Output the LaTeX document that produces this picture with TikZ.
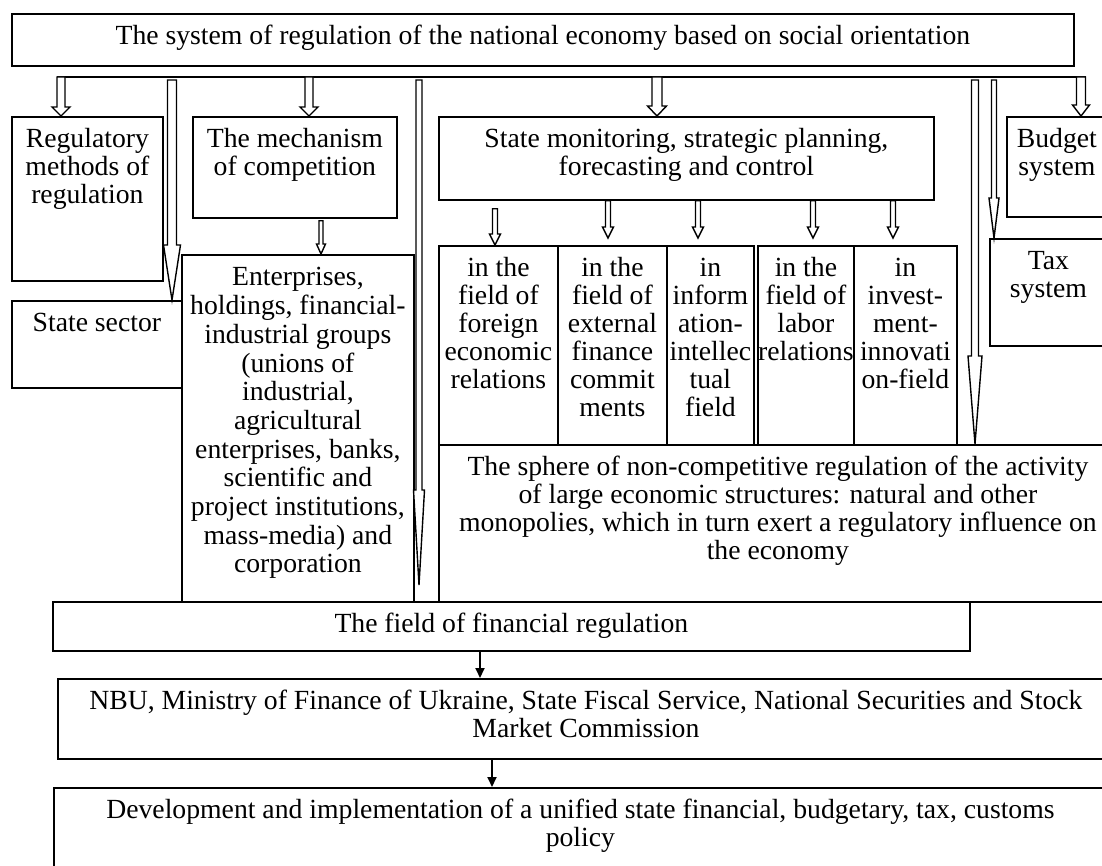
\documentclass[tikz,border=0pt]{standalone}
\usepackage{fontspec}
\setmainfont{Liberation Serif}
\usetikzlibrary{calc,arrows.meta}
\tikzstyle{box} = [draw, rectangle, line width=0.9pt, inner sep=0pt, anchor=north west]
\tikzstyle{blockarrow} = [draw, fill=white, line width=0.7pt]
\tikzstyle{link} = [draw, line width=0.9pt, -{Triangle[length=5pt,width=4.5pt]}]
\newcommand{\boxtext}[3]{\parbox[t][#2][t]{#1}{\centering\rule{0pt}{15.5pt}#3}}
\newcommand{\hollowarrow}[5]{%
  \path[blockarrow] ($(#1)+(-#3,0)$) -- ($(#2)+(-#3,-#5)$) -- ($(#2)+(-#4,-#5)$) -- (#2)
    -- ($(#2)+(#4,-#5)$) -- ($(#2)+(#3,-#5)$) -- ($(#1)+(#3,0)$) -- cycle;}
\begin{document}
\begin{tikzpicture}[x=0.5pt, y=-0.5pt, font=\fontsize{13.85}{14}\selectfont]
    \useasboundingbox (0,0) rectangle (1102,866);
    \clip (0,0) rectangle (1102,866);

    % The top box and the bar under it
    \node[box] (sys) at (11,13) {\boxtext{531pt}{26pt}{The system of regulation of the national economy based on social orientation}};
    \coordinate (barL) at (57,77);
    \coordinate (barR) at (1085.5,77);
    \draw[line width=0.9pt] (barL) -- (barR);

    % Boxes under the bar
    \node[box] (reg) at (11,116) {\boxtext{75.5pt}{82pt}{Regulatory\\ methods of\\ regulation}};
    \node[box] (mech) at (192,116) {\boxtext{102pt}{50.5pt}{The mechanism\\ of competition}};
    \node[box] (mon) at (438,116) {\boxtext{247.5pt}{41.5pt}{State monitoring, strategic planning,\\ forecasting and control}};
    \node[box] (budget) at (1006,116) {\boxtext{50pt}{50pt}{Budget\\ system}};
    \node[box] (tax) at (989,238) {\boxtext{58.5pt}{53.5pt}{Tax\\ system}};
    \node[box] (state) at (11,300) {\boxtext{85pt}{43.5pt}{State sector}};
    \node[box] (ent) at (181,254) {\boxtext{116pt}{173.5pt}{\baselineskip=14.35pt Enterprises,\\ holdings, financial-\\ industrial groups\\ (unions of\\ industrial,\\ agricultural\\ enterprises, banks,\\ scientific and\\ project institutions,\\ mass-media) and\\ corporation}};

    % The five fields of monitoring
    \foreach \pos/ \name/ \cw/ \txt in {{(438,245)/c1/59.5pt/{in the\\ field of\\ foreign\\ economic\\ relations}},
        {(557,245)/c2/54.5pt/{in the\\ field of\\ external\\ finance\\ commit\\ ments}},
        {(666,245)/c3/43.5pt/{in\\ inform\\ ation-\\ intellec\\ tual\\ field}},
        {(757,245)/c4/48pt/{in the\\ field of\\ labor\\ relations}},
        {(853,245)/c5/51.5pt/{in\\ invest-\\ ment-\\ innovati\\ on-field}}}
        \node[box] (\name) at \pos {\boxtext{\cw}{99.5pt}{\txt}};

    % Lower boxes
    \node[box] (sphere) at (438,444) {\boxtext{339pt}{78.5pt}{The sphere of non-competitive regulation of the activity\\ of large economic structures: natural and other\\ monopolies, which in turn exert a regulatory influence on\\ the economy}};
    \node[box] (fin) at (52,601) {\boxtext{458.5pt}{24.5pt}{The field of financial regulation}};
    \node[box] (nbu) at (57,678) {\boxtext{528pt}{40pt}{NBU, Ministry of Finance of Ukraine, State Fiscal Service, National Securities and Stock\\ Market Commission}};
    \node[box] (dev) at (53,787) {\boxtext{526.5pt}{46.5pt}{Development and implementation of a unified state financial, budgetary, tax, customs\\ policy}};

    % Short hollow arrows from the bar
    \foreach \name/ \dx/ \dw/ \hw/ \hl in {reg/50/4/9/9, mech/117/4/9/9, mon/219/5/9.5/10, budget/75/4.5/8.5/11}{
        \coordinate (tip) at ($(\name.north west)+(\dx,0)$);
        \coordinate (top) at (tip |- barL);
        \hollowarrow{top}{tip}{\dw}{\hw}{\hl}
    }

    % Long hollow arrows from the bar
    \foreach \name/ \dx/ \dy/ \dw/ \hw/ \hl in {state/161/0/4.5/8.5/55, fin/367/-16/3/5.5/95, sphere/537/0/3.5/7/88, tax/5/0/2.5/5/40}{
        \coordinate (tip) at ($(\name.north west)+(\dx,\dy)$);
        \coordinate (top) at ($(tip |- barL)+(0,3)$);
        \hollowarrow{top}{tip}{\dw}{\hw}{\hl}
    }

    % Mechanism to enterprises
    \coordinate (tip) at ($(ent.north west)+(140,0)$);
    \coordinate (top) at ($(tip |- mech.south)+(0,2)$);
    \hollowarrow{top}{tip}{2}{4.5}{10}

    % Monitoring to the five fields
    \foreach \name/ \dx/ \dy/ \ds in {c1/57/0/8, c2/51/-7/0, c3/32/-7/0, c4/56/-7/0, c5/40/-7/0}{
        \coordinate (tip) at ($(\name.north west)+(\dx,\dy)$);
        \coordinate (top) at ($(tip |- mon.south)+(0,\ds)$);
        \hollowarrow{top}{tip}{2.5}{5.5}{11}
    }

    % Thin arrows at the bottom
    \draw[link] ($(fin.south west)+(428,0)$) -- ($(nbu.north west)+(423,0)$);
    \draw[link] ($(nbu.south west)+(435,0)$) -- ($(dev.north west)+(439,0)$);
\end{tikzpicture}
\end{document}
